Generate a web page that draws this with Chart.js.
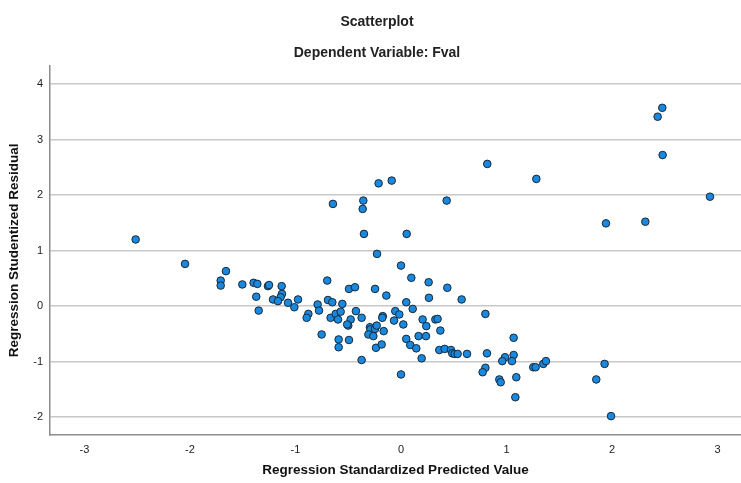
<!DOCTYPE html>
<html>
<head>
<meta charset="utf-8">
<script src="https://cdn.jsdelivr.net/npm/chart.js@4/dist/chart.umd.min.js"></script>
<style>
  html, body { margin: 0; padding: 0; background: #fff; overflow: hidden; }
  #wrap { width: 741px; height: 483px; }
</style>
</head>
<body>
<div id="wrap"><canvas id="chart-scatter"></canvas></div>
<script>
// Regression Standardized Predicted Value (x) / Regression Studentized Residual (y)
const predicted = [
  -2.515, -0.645, -0.357, -0.363, -0.351, -0.227, -0.212, -0.088, 0.054, 0.433,
  0.818, 1.283, 1.943, 2.316, 2.433, 2.477, 2.480, 2.929,
  -2.047, -1.659, -1.709, -1.709, -1.504, -1.397, -1.362, -1.372, -1.349, -1.261,
  -1.251, -1.131, -1.128, -1.141, -1.213, -1.166, -1.071, -0.976, -1.011, -0.878,
  -0.894, -0.790, -0.777, -0.752, -0.699, -0.692, -0.651, -0.667, -0.619, -0.597,
  -0.572, -0.556, -0.591, -0.591, -0.493, -0.436, -0.477, -0.500, -0.510, -0.493,
  -0.427, -0.373, -0.373, -0.294, -0.290, -0.309, -0.262, -0.246, -0.246, -0.237,
  -0.230, -0.183, -0.173, -0.177, -0.164, -0.139, -0.066, -0.054, 0.000, -0.016,
  0.000,
  0.098, 0.262, 0.439, 0.265, 0.575, 0.050, 0.111, 0.022, 0.205, 0.240,
  0.326, 0.347, 0.373, 0.800, 0.050, 0.167, 0.237, 0.088, 0.145, 0.196,
  0.363, 0.414, 0.474, 0.486, 0.509, 0.537, 0.626, 0.815, 1.068, 1.068,
  0.986, 0.960, 1.052, 0.800, 0.774, 0.932, 0.945, 1.093, 1.084, 1.254,
  1.276, 1.349, 1.374, 1.851, 1.930, 1.991
];
const residual = [
  1.20, 1.84, 1.90, 1.75, 1.30, 0.94, 2.21, 2.26, 1.30, 1.90,
  2.56, 2.29, 1.49, 1.52, 3.41, 3.57, 2.72, 1.97,
  0.76, 0.63, 0.46, 0.37, 0.39, 0.42, 0.40, 0.17, -0.08, 0.36,
  0.38, 0.36, 0.22, 0.16, 0.12, 0.09, 0.06, 0.12, -0.02, -0.14,
  -0.21, 0.03, -0.08, -0.51, 0.46, 0.11, 0.07, -0.21, -0.14, -0.24,
  -0.10, 0.04, -0.60, -0.74, 0.31, 0.34, -0.24, -0.35, -0.33, -0.61,
  -0.09, -0.21, -0.97, -0.38, -0.42, -0.51, -0.54, 0.31, -0.41, -0.75,
  -0.35, -0.69, -0.18, -0.21, -0.45, 0.19, -0.26, -0.09, 0.73, -0.15,
  -1.23,
  0.51, 0.43, 0.33, 0.15, 0.12, 0.07, -0.05, -0.33, -0.24, -0.36,
  -0.24, -0.23, -0.44, -0.14, -0.59, -0.54, -0.54, -0.70, -0.76, -0.94,
  -0.79, -0.77, -0.79, -0.85, -0.86, -0.86, -0.86, -0.85, -0.57, -0.88,
  -0.92, -0.99, -0.99, -1.11, -1.19, -1.32, -1.37, -1.28, -1.64, -1.10,
  -1.10, -1.04, -0.99, -1.32, -1.04, -1.98
];

const FONT = "'Liberation Sans', Arial, sans-serif";

const points = predicted.map((x, i) => ({ x: x, y: residual[i] }));

new Chart(document.getElementById('chart-scatter').getContext('2d'), {
  type: 'scatter',
  data: {
    datasets: [{
      data: points,
      pointRadius: 3.8,
      pointHoverRadius: 3.8,
      pointBackgroundColor: '#1a88dc',
      pointBorderColor: '#17283a',
      pointBorderWidth: 1,
    }],
  },
  options: {
    responsive: true,
    maintainAspectRatio: false,
    animation: false,
    layout: { autoPadding: false, padding: { left: 13, right: 0, top: 0, bottom: 0 } },
    plugins: {
      legend: { display: false },
      tooltip: { enabled: false },
      title: {
        display: true,
        text: ['Scatterplot', 'Dependent Variable: Fval'],
        color: '#222',
        font: { family: FONT, size: 14, weight: 'bold', lineHeight: 2.2 },
        padding: { top: 7, bottom: -3 },
      },
    },
    scales: {
      x: {
        type: 'linear',
        min: -3.327,
        max: 3.223,
        afterFit: scale => { scale.height = 48; },
        ticks: {
          stepSize: 1,
          includeBounds: false,
          padding: 8,
          color: '#222',
          font: { family: FONT, size: 11 },
        },
        grid: { display: false, drawTicks: false },
        border: { display: true, color: '#8c8c8c', width: 1.5 },
        title: {
          display: true,
          text: 'Regression Standardized Predicted Value',
          color: '#111',
          font: { family: FONT, size: 13.5, weight: 'bold' },
          padding: { top: 0, bottom: 5 },
        },
      },
      y: {
        type: 'linear',
        min: -2.32,
        max: 4.33,
        afterFit: scale => { scale.width = 37; },
        ticks: {
          stepSize: 1,
          includeBounds: false,
          padding: 7,
          color: '#222',
          font: { family: FONT, size: 11 },
        },
        grid: { color: '#c8c8c8', lineWidth: 1.5, drawTicks: false },
        border: { display: true, color: '#8c8c8c', width: 1.5 },
        title: {
          display: true,
          text: 'Regression Studentized Residual',
          color: '#111',
          font: { family: FONT, size: 13.5, weight: 'bold' },
          padding: { top: -7, bottom: 0 },
        },
      },
    },
  },
});
</script>
</body>
</html>
